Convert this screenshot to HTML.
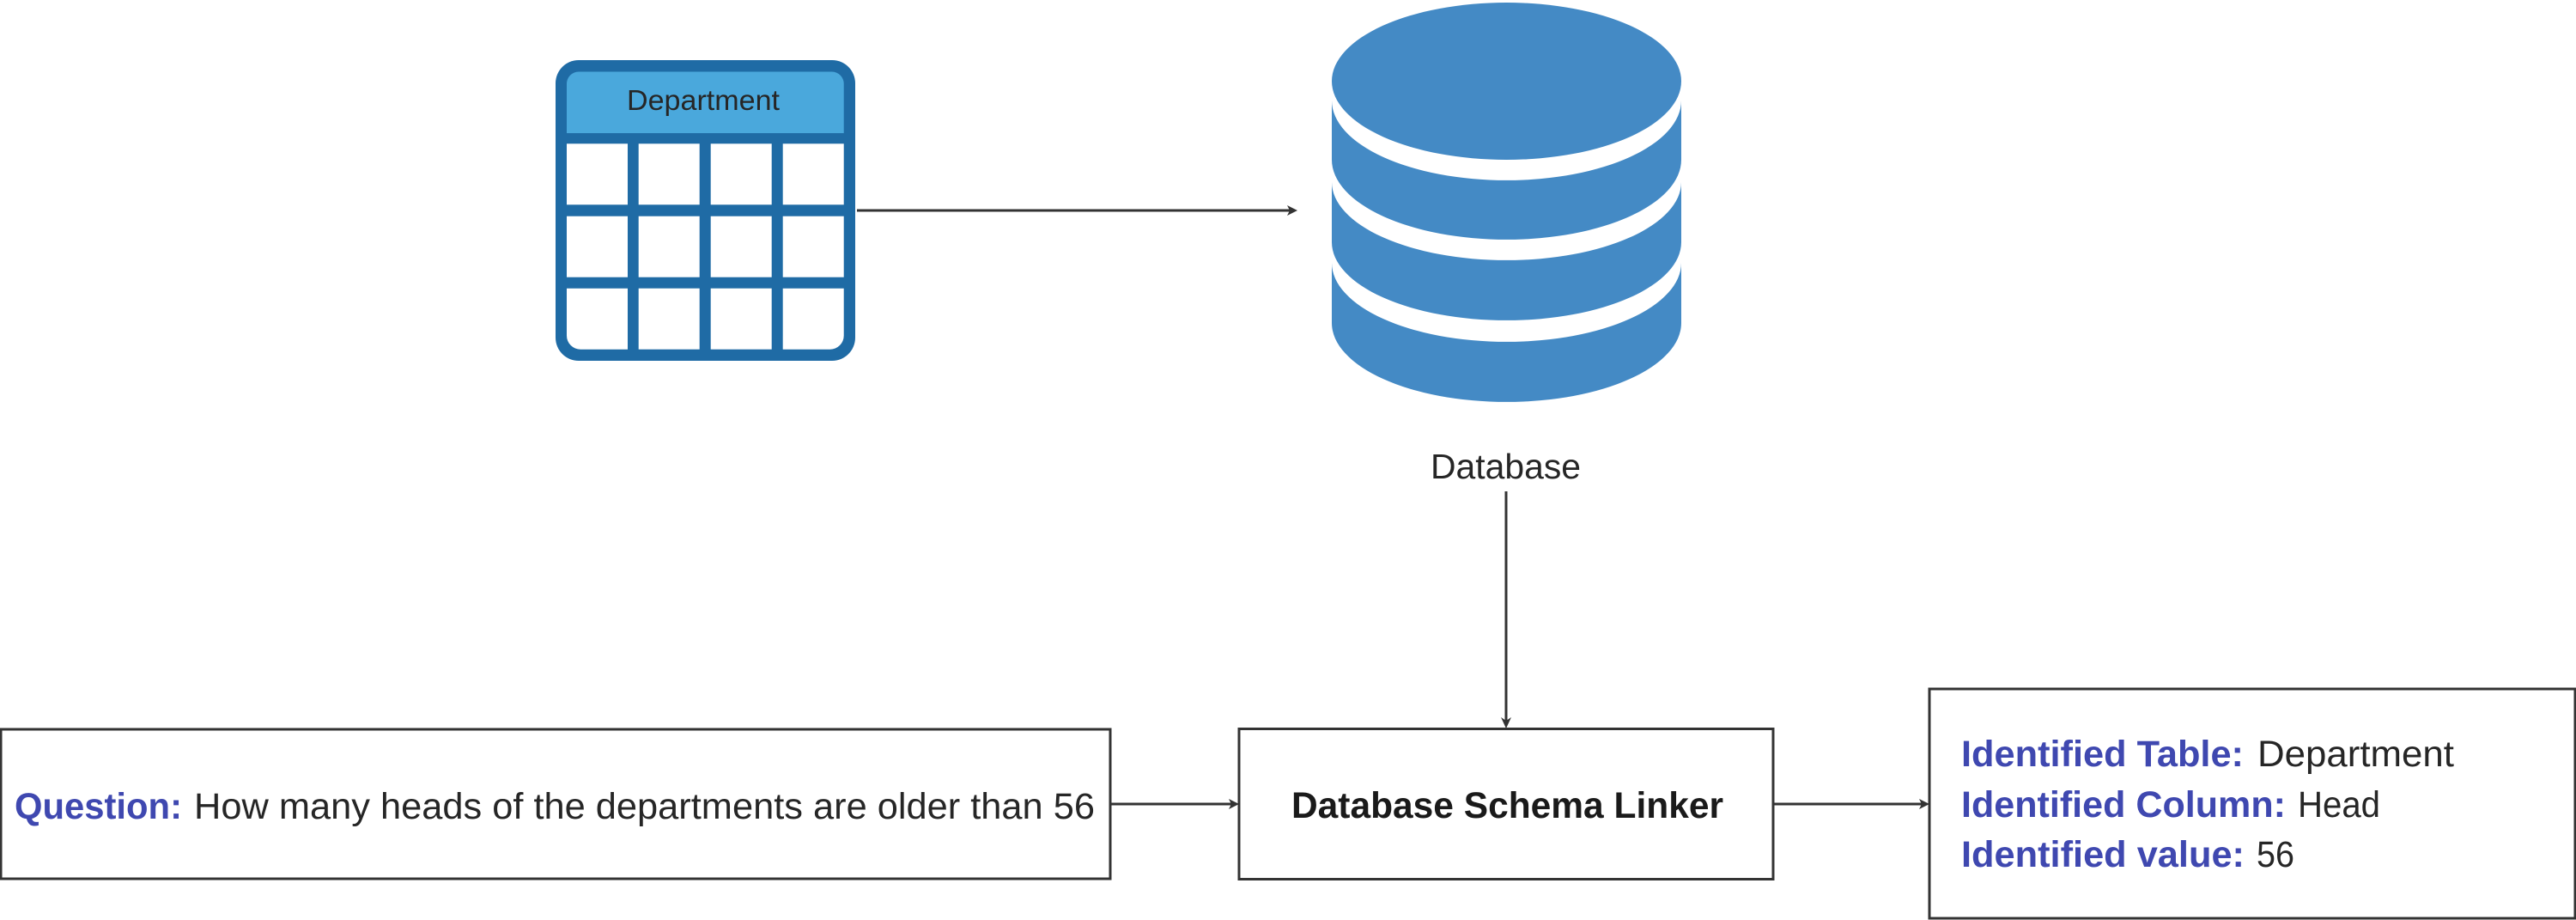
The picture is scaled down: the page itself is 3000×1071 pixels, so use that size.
<!DOCTYPE html>
<html><head><meta charset="utf-8"><style>html,body{margin:0;padding:0;background:#fff}svg{display:block}text{font-family:"Liberation Sans",sans-serif;fill:#262626}.b{font-weight:bold;fill:#3f48b0}</style></head><body>
<svg width="3000" height="1071" viewBox="0 0 3000 1071" xmlns="http://www.w3.org/2000/svg">
<rect width="3000" height="1071" fill="#fff"/>
<rect x="647" y="70" width="349" height="350" rx="27" fill="#1f6ba5"/>
<path d="M660,155V98a14,14 0 0 1 14,-14.500H968.700a14,14 0 0 1 14,14.500V155Z" fill="#4aa8dc"/>
<g fill="#fff">
<rect x="660" y="167.300" width="71" height="71"/><rect x="743.700" y="167.300" width="71" height="71"/><rect x="827.700" y="167.300" width="71" height="71"/><rect x="911.700" y="167.300" width="71" height="71"/>
<rect x="660" y="251.700" width="71" height="71"/><rect x="743.700" y="251.700" width="71" height="71"/><rect x="827.700" y="251.700" width="71" height="71"/><rect x="911.700" y="251.700" width="71" height="71"/>
<path d="M660,335.700H731V406.700H676a16,16 0 0 1 -16,-16Z"/><rect x="743.700" y="335.700" width="71" height="71"/><rect x="827.700" y="335.700" width="71" height="71"/><path d="M911.700,335.700H982.700V390.700a16,16 0 0 1 -16,16H911.700Z"/>
</g>
<text x="730" y="128" font-size="33" textLength="178" lengthAdjust="spacingAndGlyphs">Department</text>
<g fill="#448ac5">
<ellipse cx="1754.500" cy="94.500" rx="203.500" ry="91.500"/>
<path d="M1551,117A203.500,93 0 0 0 1958,117V186A203.500,93 0 0 1 1551,186Z"/>
<path d="M1551,212A203.500,91 0 0 0 1958,212V282A203.500,91 0 0 1 1551,282Z"/>
<path d="M1551,306A203.500,92 0 0 0 1958,306V376A203.500,92 0 0 1 1551,376Z"/>
</g>
<text x="1666" y="557" font-size="41" textLength="175" lengthAdjust="spacingAndGlyphs">Database</text>
<g stroke="#333" stroke-width="3" fill="none">
<line x1="998" y1="245" x2="1503" y2="245"/>
<line x1="1754" y1="572" x2="1754" y2="840"/>
<line x1="1293" y1="936" x2="1435" y2="936"/>
<line x1="2065" y1="936" x2="2239" y2="936"/>
<rect x="1" y="849" width="1292" height="174" fill="#fff"/>
<rect x="1443" y="848.500" width="622" height="175" fill="#fff"/>
<rect x="2247" y="802" width="752" height="267" fill="#fff"/>
</g>
<g fill="#333">
<path d="M1511,245L1499,239L1502,245L1499,251Z"/>
<path d="M1754,848L1748,835L1754,839L1760,835Z"/>
<path d="M1443,936L1431,930L1434,936L1431,942Z"/>
<path d="M2247,936L2235,930L2238,936L2235,942Z"/>
</g>
<text class="b" x="17" y="953" font-size="43" textLength="195" lengthAdjust="spacingAndGlyphs">Question:</text>
<text x="226" y="953" font-size="43" textLength="1049" lengthAdjust="spacingAndGlyphs">How many heads of the departments are older than 56</text>
<text x="1504" y="952" font-size="43" font-weight="bold" textLength="503" lengthAdjust="spacingAndGlyphs" style="fill:#1a1a1a">Database Schema Linker</text>
<text class="b" x="2284" y="892" font-size="43" textLength="329" lengthAdjust="spacingAndGlyphs">Identified Table:</text>
<text x="2629" y="892" font-size="43" textLength="229" lengthAdjust="spacingAndGlyphs">Department</text>
<text class="b" x="2284" y="951" font-size="43" textLength="378" lengthAdjust="spacingAndGlyphs">Identified Column:</text>
<text x="2676" y="951" font-size="43" textLength="96" lengthAdjust="spacingAndGlyphs">Head</text>
<text class="b" x="2284" y="1009" font-size="43" textLength="330" lengthAdjust="spacingAndGlyphs">Identified value:</text>
<text x="2628" y="1009" font-size="43" textLength="44" lengthAdjust="spacingAndGlyphs">56</text>
</svg>
</body></html>
